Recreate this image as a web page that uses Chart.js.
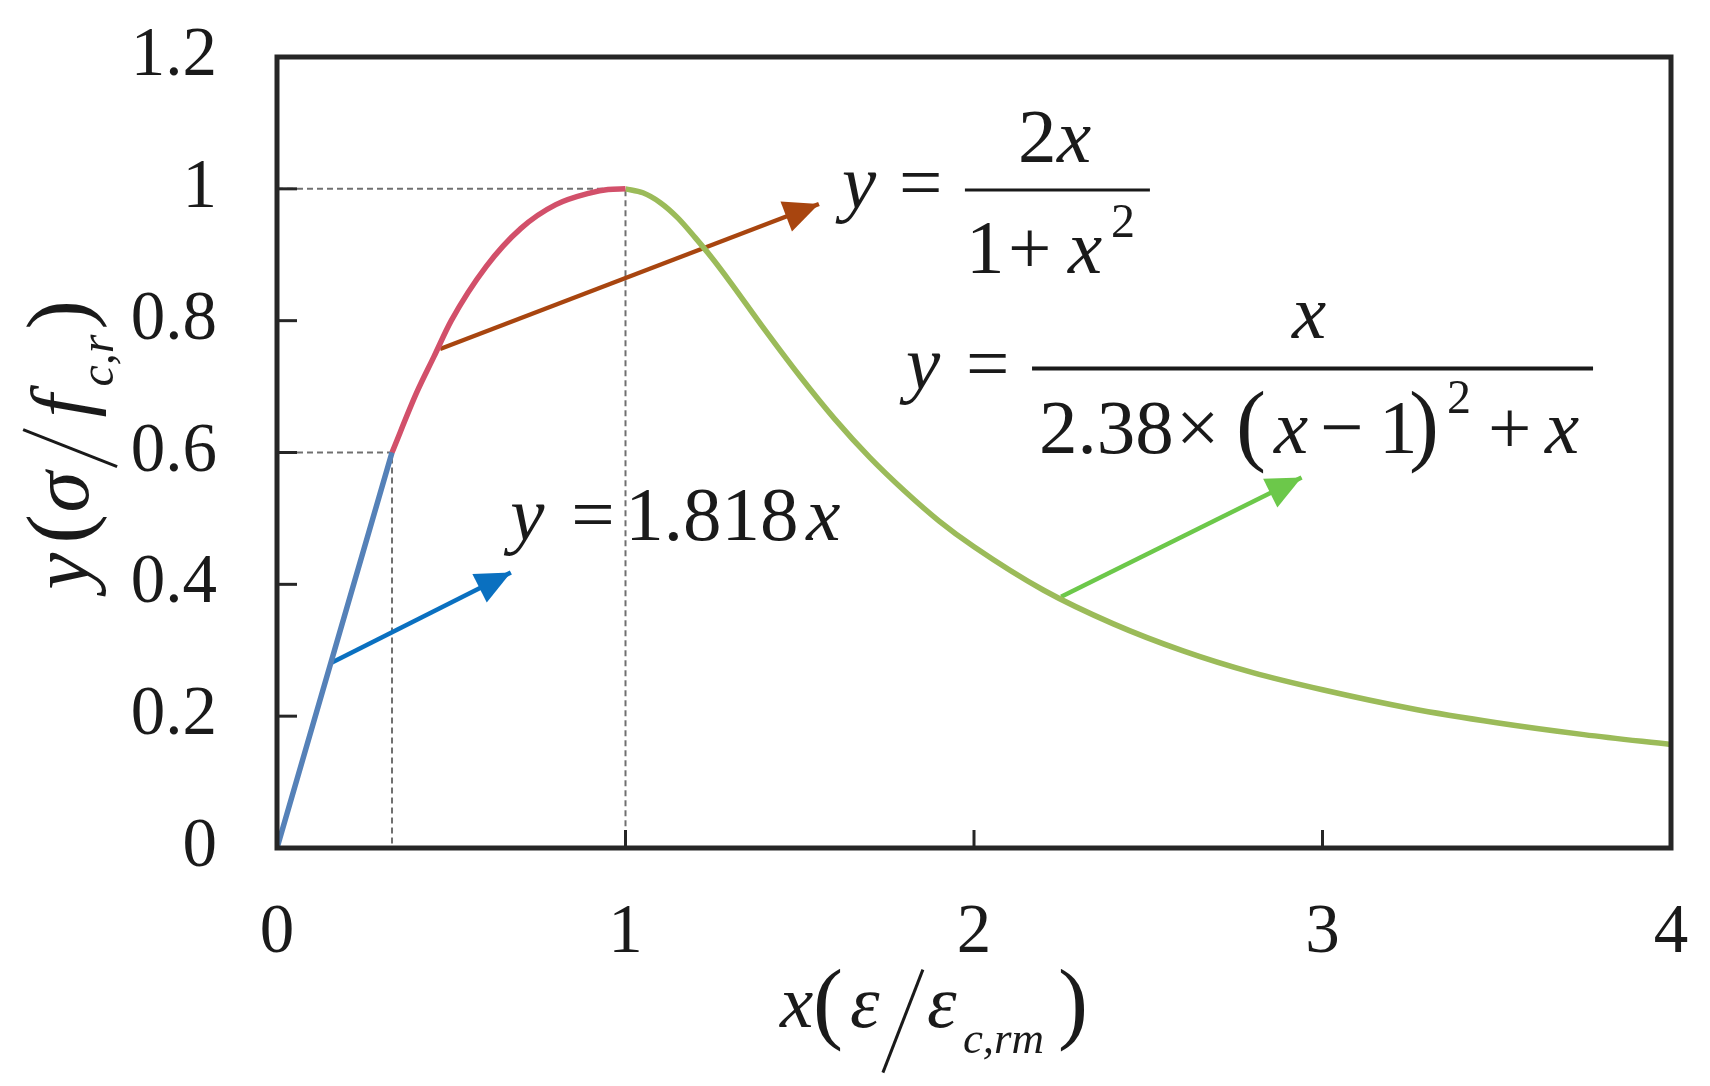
<!DOCTYPE html>
<html>
<head>
<meta charset="utf-8">
<title>Stress-strain curve</title>
<script src="https://cdn.jsdelivr.net/npm/chart.js@4.4.1/dist/chart.umd.min.js"></script>
<style>
  html, body { margin: 0; padding: 0; background: #fff; }
  #wrap { width: 1710px; height: 1086px; }
</style>
</head>
<body>
<div id="wrap"><canvas id="curve-chart" width="1710" height="1086"></canvas></div>
<script>
// Tick labels
const xTickLabels = ['0', '1', '2', '3', '4'];
const yTickLabels = ['0', '0.2', '0.4', '0.6', '0.8', '1', '1.2'];

// Linear part of the ascending branch (blue)
const linearX = [0, 0.33];
const linearY = [0, 0.6];

// Curved part of the ascending branch (red)
const riseX = [0.33, 0.4, 0.45, 0.5, 0.6, 0.7, 0.8, 0.9, 0.95, 1.0];
const riseY = [0.6, 0.69, 0.745, 0.8, 0.882, 0.94, 0.976, 0.994, 0.999, 1.0];

// Descending branch (green)
const fallX = [1.0, 1.05, 1.1, 1.15, 1.2, 1.25, 1.3, 1.4, 1.5, 1.6, 1.7, 1.8, 1.9, 2.0, 2.2, 2.4, 2.6, 2.8, 3.0, 3.25, 3.5, 3.75, 4.0];
const fallY = [1.0, 0.994, 0.979, 0.956, 0.926, 0.894, 0.859, 0.786, 0.716, 0.651, 0.593, 0.542, 0.496, 0.457, 0.391, 0.34, 0.299, 0.266, 0.24, 0.212, 0.19, 0.172, 0.157];

// Dashed guides (peak, end of linear part)
const peakGuideX = [0, 1, 1];
const peakGuideY = [1, 1, 0];
const linGuideX = [0, 0.33, 0.33];
const linGuideY = [0.6, 0.6, 0];

// Pointer arrows, tail -> head
const blueArrowX = [0.152, 0.671];
const blueArrowY = [0.28, 0.418];
const brownArrowX = [0.468, 1.555];
const brownArrowY = [0.757, 0.977];
const greenArrowX = [2.25, 2.94];
const greenArrowY = [0.381, 0.562];

(function() {
    'use strict';

    const colors = {
        ink: '#1a1a1a',
        frame: '#262626',
        guide: '#707070',
        linear: '#5581B8',
        rise: '#D2506A',
        fall: '#9BBB59',
        blueArrow: '#0A70C0',
        brownArrow: '#A8450F',
        greenArrow: '#6CC84A'
    };

    const serif = "'Liberation Serif', 'Times New Roman', serif";
    const R = (s) => s + 'px ' + serif;
    const I = (s) => 'italic ' + s + 'px ' + serif;

    const toPoints = (xs, ys) => xs.map((x, i) => ({ x: x, y: ys[i] }));

    function curve(xs, ys, color) {
        return {
            data: toPoints(xs, ys),
            borderColor: color,
            borderWidth: 5.5,
            pointRadius: 0,
            cubicInterpolationMode: 'monotone',
            fill: false
        };
    }

    function arrow(xs, ys, color) {
        return {
            data: toPoints(xs, ys),
            borderColor: color,
            borderWidth: 4.5,
            pointRadius: 0,
            fill: false,
            arrowHead: true
        };
    }

    function guide(xs, ys) {
        return {
            data: toPoints(xs, ys),
            borderColor: colors.guide,
            borderWidth: 2,
            borderDash: [6, 4],
            pointRadius: 0,
            fill: false
        };
    }

    // Text pieces: anchor in data units, offsets in px from the anchor
    const equations = [
        {
            at: [1.621, 0.971],
            runs: [
                { text: 'y', font: I(77), dx: 0 },
                { text: '=', font: R(77), dx: 57 },
                { line: [123, -18, 308, -18], w: 3 },
                { text: '2', font: R(77), dx: 176, dy: -46 },
                { text: 'x', font: I(77), dx: 215, dy: -46 },
                { text: '1', font: R(77), dx: 124, dy: 65 },
                { text: '+', font: R(77), dx: 166, dy: 65 },
                { text: 'x', font: I(77), dx: 226, dy: 65 },
                { text: '2', font: R(48), dx: 269, dy: 29 }
            ]
        },
        {
            at: [1.805, 0.697],
            runs: [
                { text: 'y', font: I(77), dx: 0 },
                { text: '=', font: R(77), dx: 60 },
                { line: [126, -20, 687, -20], w: 4 },
                { text: 'x', font: I(77), dx: 386, dy: -51 },
                { text: '2.38', font: R(77), dx: 133, dy: 64 },
                { text: '\u00d7', font: R(77), dx: 270, dy: 64 },
                { text: '(', font: R(90), dx: 330, dy: 65 },
                { text: 'x', font: I(77), dx: 368, dy: 64 },
                { text: '\u2212', font: R(77), dx: 414, dy: 64 },
                { text: '1', font: R(77), dx: 473, dy: 64 },
                { text: ')', font: R(90), dx: 503, dy: 65 },
                { text: '2', font: R(48), dx: 541, dy: 24 },
                { text: '+', font: R(77), dx: 582, dy: 64 },
                { text: 'x', font: I(77), dx: 639, dy: 64 }
            ]
        },
        {
            at: [0.669, 0.468],
            runs: [
                { text: 'y', font: I(77), dx: 0 },
                { text: '=', font: R(77), dx: 61 },
                { text: '1.818', font: R(77), dx: 115 },
                { text: 'x', font: I(77), dx: 296 }
            ]
        }
    ];

    const xTitle = {
        at: [1.443, -0.271],
        runs: [
            { text: 'x', font: I(75), dx: 0 },
            { text: '(', font: R(90), dx: 33, dy: 5 },
            { text: '\u03b5', font: I(75), dx: 70 },
            { line: [143, -57, 103, 46], w: 3 },
            { text: '\u03b5', font: I(75), dx: 147 },
            { text: 'c,rm', font: I(45), dx: 183, dy: 26 },
            { text: ')', font: R(90), dx: 278, dy: 5 }
        ]
    };

    // drawn rotated, reading bottom to top
    const yTitle = {
        at: [-0.542, 0.392],
        runs: [
            { text: 'y', font: I(83), dx: 0 },
            { text: '(', font: R(88), dx: 46 },
            { text: '\u03c3', font: I(83), dx: 77 },
            { line: [123, 29, 160, -65], w: 3 },
            { text: 'f', font: I(83), dx: 172 },
            { text: 'c,r', font: I(48), dx: 203, dy: 25 },
            { text: ')', font: R(88), dx: 260 }
        ]
    };

    function drawRuns(ctx, runs) {
        runs.forEach(function(r) {
            if (r.line) {
                ctx.beginPath();
                ctx.moveTo(r.line[0], r.line[1]);
                ctx.lineTo(r.line[2], r.line[3]);
                ctx.lineWidth = r.w;
                ctx.stroke();
                return;
            }
            ctx.font = r.font;
            ctx.fillText(r.text, r.dx, r.dy || 0);
        });
    }

    const decorations = {
        id: 'decorations',
        afterDraw(chart) {
            const ctx = chart.ctx;
            const xs = chart.scales.x;
            const ys = chart.scales.y;
            const area = chart.chartArea;

            // arrow heads
            chart.data.datasets.forEach(function(ds, i) {
                if (!ds.arrowHead) return;
                const pts = chart.getDatasetMeta(i).data;
                const a = pts[pts.length - 2], b = pts[pts.length - 1];
                const ang = Math.atan2(b.y - a.y, b.x - a.x);
                ctx.save();
                ctx.translate(b.x, b.y);
                ctx.rotate(ang);
                ctx.fillStyle = ds.borderColor;
                ctx.beginPath();
                ctx.moveTo(0, 0);
                ctx.lineTo(-35, -16);
                ctx.lineTo(-35, 16);
                ctx.closePath();
                ctx.fill();
                ctx.restore();
            });

            ctx.save();
            ctx.strokeStyle = colors.frame;
            ctx.lineCap = 'butt';

            // inward tick marks
            ctx.lineWidth = 3;
            ys.ticks.forEach(function(t) {
                if (t.value <= 0 || t.value >= 1.2) return;
                const py = ys.getPixelForValue(t.value);
                ctx.beginPath();
                ctx.moveTo(area.left, py);
                ctx.lineTo(area.left + 20, py);
                ctx.stroke();
            });
            xs.ticks.forEach(function(t) {
                if (t.value <= 0 || t.value >= 4) return;
                const px = xs.getPixelForValue(t.value);
                ctx.beginPath();
                ctx.moveTo(px, area.bottom);
                ctx.lineTo(px, area.bottom - 18);
                ctx.stroke();
            });

            // frame
            ctx.lineWidth = 5;
            ctx.strokeRect(area.left, area.top, area.right - area.left, area.bottom - area.top);

            // equations
            ctx.fillStyle = colors.ink;
            ctx.strokeStyle = colors.ink;
            ctx.textAlign = 'left';
            ctx.textBaseline = 'alphabetic';
            equations.concat([xTitle]).forEach(function(eq) {
                ctx.save();
                ctx.translate(xs.getPixelForValue(eq.at[0]), ys.getPixelForValue(eq.at[1]));
                drawRuns(ctx, eq.runs);
                ctx.restore();
            });

            ctx.save();
            ctx.translate(xs.getPixelForValue(yTitle.at[0]), ys.getPixelForValue(yTitle.at[1]));
            ctx.rotate(-Math.PI / 2);
            drawRuns(ctx, yTitle.runs);
            ctx.restore();

            ctx.restore();
        }
    };

    function initChart() {
        const canvas = document.getElementById('curve-chart');
        if (!canvas || typeof Chart === 'undefined') return;

        new Chart(canvas.getContext('2d'), {
            type: 'line',
            data: {
                datasets: [
                    curve(linearX, linearY, colors.linear),
                    curve(riseX, riseY, colors.rise),
                    curve(fallX, fallY, colors.fall),
                    arrow(blueArrowX, blueArrowY, colors.blueArrow),
                    arrow(brownArrowX, brownArrowY, colors.brownArrow),
                    arrow(greenArrowX, greenArrowY, colors.greenArrow),
                    guide(peakGuideX, peakGuideY),
                    guide(linGuideX, linGuideY)
                ]
            },
            options: {
                responsive: false,
                animation: false,
                layout: {
                    padding: { top: 57, right: 39, bottom: 0, left: 0 }
                },
                plugins: {
                    legend: { display: false },
                    tooltip: { enabled: false }
                },
                scales: {
                    x: {
                        type: 'linear',
                        min: 0,
                        max: 4,
                        grid: { display: false, drawTicks: false },
                        border: { display: false },
                        ticks: {
                            stepSize: 1,
                            padding: 44,
                            color: colors.ink,
                            font: { family: serif, size: 69 },
                            maxRotation: 0,
                            callback: function(value) {
                                return xTickLabels[Math.round(value)];
                            }
                        },
                        afterFit: function(scale) {
                            scale.height = 238;
                            scale.paddingLeft = 0;
                            scale.paddingRight = 0;
                        }
                    },
                    y: {
                        type: 'linear',
                        min: 0,
                        max: 1.2,
                        grid: { display: false, drawTicks: false },
                        border: { display: false },
                        ticks: {
                            stepSize: 0.2,
                            padding: 60,
                            color: colors.ink,
                            font: { family: serif, size: 69 },
                            callback: function(value) {
                                return yTickLabels[Math.round(value / 0.2)];
                            }
                        },
                        afterFit: function(scale) {
                            scale.width = 277;
                            scale.paddingTop = 0;
                            scale.paddingBottom = 0;
                        }
                    }
                }
            },
            plugins: [decorations]
        });
    }

    if (document.readyState === 'loading') {
        document.addEventListener('DOMContentLoaded', initChart);
    } else {
        initChart();
    }
})();
</script>
</body>
</html>
